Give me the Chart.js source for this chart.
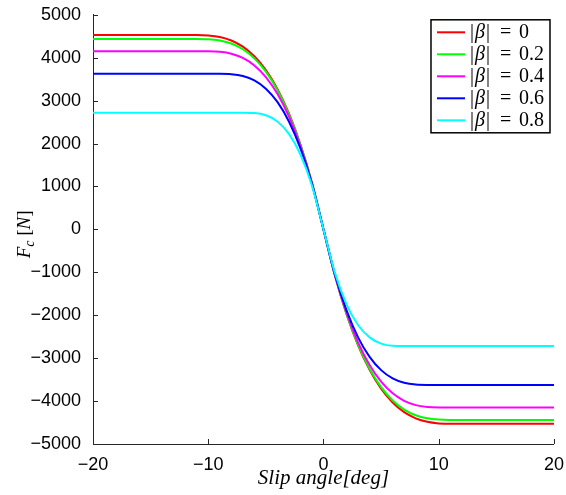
<!DOCTYPE html>
<html lang="en">
<head>
<meta charset="UTF-8">
<title>Lateral force vs slip angle</title>
<script src="https://cdn.jsdelivr.net/npm/chart.js@4.4.0/dist/chart.umd.min.js"></script>
<style>
  html, body { margin: 0; padding: 0; background: #fff; }
  #chart { display: block; }
</style>
</head>
<body>
<canvas id="chart" width="566" height="495"></canvas>
<script>
// slip angle in degrees, shared by every curve
const slipAngle = [-20, -12, -11, -10, -9, -8, -7, -6, -5, -4, -3, -2, -1, 0, 1, 2, 3, 4, 5, 6, 7, 8, 9, 10, 11, 12, 20];

// lateral force Fc [N] for each |beta|
const forceBeta00 = [4530, 4530, 4530, 4520, 4483, 4402, 4259, 4034, 3712, 3273, 2701, 1976, 1082, 0, -1082, -1976, -2701, -3273, -3712, -4034, -4259, -4402, -4483, -4520, -4530, -4530, -4530];
const forceBeta02 = [4438, 4438, 4438, 4432, 4402, 4330, 4197, 3985, 3674, 3247, 2685, 1969, 1080, 0, -1080, -1969, -2685, -3247, -3674, -3985, -4197, -4330, -4402, -4432, -4438, -4438, -4438];
const forceBeta04 = [4152, 4152, 4152, 4151, 4139, 4094, 3995, 3820, 3549, 3160, 2632, 1943, 1073, 0, -1073, -1943, -2632, -3160, -3549, -3820, -3995, -4094, -4139, -4151, -4152, -4152, -4152];
const forceBeta06 = [3624, 3624, 3624, 3624, 3624, 3616, 3574, 3472, 3279, 2970, 2515, 1887, 1058, 0, -1058, -1887, -2515, -2970, -3279, -3472, -3574, -3616, -3624, -3624, -3624, -3624, -3624];
const forceBeta08 = [2718, 2718, 2718, 2718, 2718, 2718, 2718, 2712, 2661, 2516, 2227, 1745, 1019, 0, -1019, -1745, -2227, -2516, -2661, -2712, -2718, -2718, -2718, -2718, -2718, -2718, -2718];

const betaValues = ['0', '0.2', '0.4', '0.6', '0.8'];
const lineColors = ['#ff0000', '#00ff00', '#ff00ff', '#0000ff', '#00ffff'];
const allForces = [forceBeta00, forceBeta02, forceBeta04, forceBeta06, forceBeta08];

const axisColor = '#262626';
const tickFont = { family: '"Liberation Sans", Arial, sans-serif', size: 18 };

const datasets = allForces.map((forces, i) => ({
    label: '|β| = ' + betaValues[i],
    data: slipAngle.map((a, k) => ({ x: a, y: forces[k] })),
    borderColor: lineColors[i],
    borderWidth: 2,
    pointRadius: 0,
    fill: false,
    cubicInterpolationMode: 'monotone',
    order: allForces.length - i   // red drawn first, cyan on top like matlab
}));

function minusSign(v) {
    return String(v).replace('-', '\u2212');
}

// matlab style ticks pointing into the axes
const innerTicks = {
    id: 'innerTicks',
    afterDraw(chart) {
        const ctx = chart.ctx;
        const area = chart.chartArea;
        const xs = chart.scales.x, ys = chart.scales.y;
        ctx.save();
        ctx.strokeStyle = axisColor;
        ctx.lineWidth = 1;
        ctx.beginPath();
        xs.ticks.forEach(t => {
            const px = Math.round(xs.getPixelForValue(t.value)) + 0.5;
            ctx.moveTo(px, area.bottom);
            ctx.lineTo(px, area.bottom - 5);
        });
        ys.ticks.forEach(t => {
            const py = Math.round(ys.getPixelForValue(t.value)) + 0.5;
            ctx.moveTo(area.left, py);
            ctx.lineTo(area.left + 5, py);
        });
        ctx.stroke();
        ctx.restore();
    }
};

// axis titles with italic math-like text
const axisTitles = {
    id: 'axisTitles',
    afterDraw(chart) {
        const ctx = chart.ctx;
        const area = chart.chartArea;
        ctx.save();
        ctx.fillStyle = '#000';
        ctx.textBaseline = 'alphabetic';

        // x title
        ctx.font = 'italic 21px "Liberation Serif", serif';
        ctx.textAlign = 'center';
        ctx.fillText('Slip angle[deg]', (area.left + area.right) / 2, 484);

        // y title: F_c [N], rotated
        const parts = [
            { t: 'F', f: 'italic 19px "Liberation Serif", serif', dy: 0 },
            { t: 'c', f: 'italic 14px "Liberation Serif", serif', dy: 4 },
            { t: ' [', f: '19px "Liberation Serif", serif', dy: 0 },
            { t: 'N', f: 'italic 19px "Liberation Serif", serif', dy: 0 },
            { t: ']', f: '19px "Liberation Serif", serif', dy: 0 }
        ];
        let total = 0;
        parts.forEach(p => { ctx.font = p.f; p.w = ctx.measureText(p.t).width; total += p.w; });
        ctx.translate(30, (area.top + area.bottom) / 2 + 5);
        ctx.rotate(-Math.PI / 2);
        ctx.textAlign = 'left';
        let x = -total / 2;
        parts.forEach(p => {
            ctx.font = p.f;
            ctx.fillText(p.t, x, p.dy);
            x += p.w;
        });
        ctx.restore();
    }
};

// boxed legend in the upper right corner
const boxLegend = {
    id: 'boxLegend',
    afterDraw(chart) {
        const ctx = chart.ctx;
        const area = chart.chartArea;
        const w = 119, h = 113;
        const bx = area.right - 4 - w, by = area.top + 5;
        ctx.save();
        ctx.fillStyle = '#fff';
        ctx.fillRect(bx, by, w, h);
        ctx.strokeStyle = '#000';
        ctx.lineWidth = 1.5;
        ctx.strokeRect(bx, by, w, h);

        chart.data.datasets.forEach((ds, i) => {
            const cy = by + 12.5 + i * 22;
            ctx.strokeStyle = ds.borderColor;
            ctx.lineWidth = 2;
            ctx.beginPath();
            ctx.moveTo(bx + 6, cy);
            ctx.lineTo(bx + 34, cy);
            ctx.stroke();

            ctx.fillStyle = '#000';
            ctx.textBaseline = 'middle';
            ctx.textAlign = 'left';
            let tx = bx + 39;
            ctx.font = '20px "Liberation Serif", serif';
            ctx.fillText('|', tx, cy);
            tx += ctx.measureText('|').width + 1;
            ctx.font = 'italic 20px "Liberation Serif", serif';
            ctx.fillText('β', tx, cy);
            tx += ctx.measureText('β').width + 1;
            ctx.font = '20px "Liberation Serif", serif';
            ctx.fillText('|', tx, cy);
            ctx.fillText('=', bx + 69, cy);
            ctx.fillText(betaValues[i], bx + 88, cy);
        });
        ctx.restore();
    }
};

new Chart(document.getElementById('chart'), {
    type: 'line',
    data: { datasets: datasets },
    options: {
        responsive: false,
        animation: false,
        devicePixelRatio: 1,
        layout: { padding: { left: 0, top: 14, right: 11, bottom: 0 } },
        plugins: {
            legend: { display: false },
            tooltip: { enabled: false }
        },
        scales: {
            x: {
                type: 'linear',
                min: -20,
                max: 20,
                grid: { display: false },
                border: { display: true, color: axisColor, width: 1 },
                ticks: {
                    stepSize: 10,
                    color: '#000',
                    font: tickFont,
                    padding: 2,
                    maxRotation: 0,
                    callback: minusSign
                },
                afterFit(scale) { scale.height = 51; }
            },
            y: {
                type: 'linear',
                min: -5000,
                max: 5000,
                grid: { display: false },
                border: { display: true, color: axisColor, width: 1 },
                ticks: {
                    stepSize: 1000,
                    color: '#000',
                    font: tickFont,
                    padding: 4,
                    callback: minusSign
                },
                afterFit(scale) { scale.width = 93; }
            }
        }
    },
    plugins: [innerTicks, axisTitles, boxLegend]
});
</script>
</body>
</html>
